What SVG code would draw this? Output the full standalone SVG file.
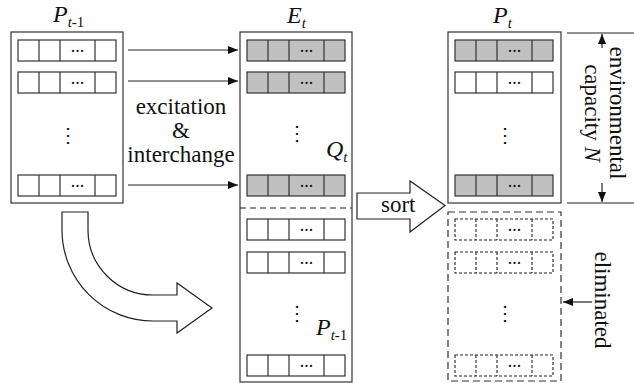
<svg xmlns="http://www.w3.org/2000/svg" xmlns:xlink="http://www.w3.org/1999/xlink" width="634" height="383" viewBox="0 0 634 383">
  <style>
    .box { fill: #fff; stroke: #333; stroke-width: 1.2; }
    .dbox { fill: none; stroke: #333; stroke-width: 1.2; stroke-dasharray: 7 4; }
    .cell { stroke: #333; stroke-width: 1.2; }
    .dcell { fill: none; stroke: #222; stroke-width: 1.1; stroke-dasharray: 3 2; }
    .txt { font-family: "Liberation Serif", "Times New Roman", serif; font-size: 23px; fill: #111; }
    .math { font-family: "Liberation Serif", "Times New Roman", serif; font-size: 24px; font-style: italic; fill: #111; }
    .sub { font-size: 15px; }
    .dots { font-family: "Liberation Serif", "Times New Roman", serif; font-size: 18px; fill: #111; text-anchor: middle; }
    .vdots { font-family: "DejaVu Serif", serif; font-size: 20px; fill: #111; text-anchor: middle; }
    .line { stroke: #222; stroke-width: 1.2; fill: none; }
    .block { fill: #fff; stroke: #222; stroke-width: 1.2; stroke-linejoin: miter; }
  </style>
  <defs>
    <marker id="head" viewBox="0 0 10 8" refX="10" refY="4" markerWidth="10" markerHeight="8" markerUnits="userSpaceOnUse" orient="auto">
      <path d="M0,0 L10,4 L0,8 Z" fill="#111"/>
    </marker>
    <!-- one individual: four cells, the third holding an ellipsis -->
    <g id="row-white">
      <rect class="cell" x="0" y="0" width="98" height="21" fill="#fff"/>
      <path class="cell" d="M21,0 V21 M42,0 V21 M77,0 V21"/>
      <text class="dots" x="59.5" y="12">...</text>
    </g>
    <g id="row-gray">
      <rect class="cell" x="0" y="0" width="98" height="21" fill="#c0c0c0"/>
      <path class="cell" d="M21,0 V21 M42,0 V21 M77,0 V21"/>
      <text class="dots" x="59.5" y="12">...</text>
    </g>
    <g id="row-dash">
      <rect class="dcell" x="0" y="0" width="98" height="21"/>
      <path class="dcell" d="M21,0 V21 M42,0 V21 M77,0 V21"/>
      <text class="dots" x="59.5" y="12">...</text>
    </g>
  </defs>

  <!-- previous population P(t-1) -->
  <g id="pop-prev">
    <text class="math" x="53" y="22">P<tspan class="sub" dy="5">t</tspan><tspan class="sub" font-style="normal">-1</tspan></text>
    <rect class="box" x="11" y="32" width="112" height="171"/>
    <use xlink:href="#row-white" x="18" y="40"/>
    <use xlink:href="#row-white" x="18" y="72"/>
    <text class="vdots" x="68" y="142">⋮</text>
    <use xlink:href="#row-white" x="18" y="175"/>
  </g>

  <!-- extended population E(t) = Q(t) + P(t-1) -->
  <g id="pop-ext">
    <text class="math" x="287" y="23">E<tspan class="sub" dy="5">t</tspan></text>
    <rect class="box" x="240" y="32" width="112" height="350"/>
    <use xlink:href="#row-gray" x="247" y="40"/>
    <use xlink:href="#row-gray" x="247" y="72"/>
    <text class="vdots" x="297" y="140">⋮</text>
    <text class="math" x="326" y="157">Q<tspan class="sub" dy="5">t</tspan></text>
    <use xlink:href="#row-gray" x="247" y="175"/>
    <line x1="240" y1="208" x2="352" y2="208" stroke="#222" stroke-width="1.2" stroke-dasharray="6 4"/>
    <use xlink:href="#row-white" x="247" y="219"/>
    <use xlink:href="#row-white" x="247" y="252"/>
    <text class="vdots" x="297" y="320">⋮</text>
    <text class="math" x="316" y="335">P<tspan class="sub" dy="5">t</tspan><tspan class="sub" font-style="normal">-1</tspan></text>
    <use xlink:href="#row-white" x="247" y="355"/>
  </g>

  <!-- new population P(t) -->
  <g id="pop-new">
    <text class="math" x="493" y="23">P<tspan class="sub" dy="5">t</tspan></text>
    <rect class="box" x="448" y="32" width="113" height="171"/>
    <use xlink:href="#row-gray" x="455" y="40"/>
    <use xlink:href="#row-white" x="455" y="72"/>
    <text class="vdots" x="505" y="142">⋮</text>
    <use xlink:href="#row-gray" x="455" y="175"/>
  </g>

  <!-- discarded individuals -->
  <g id="pop-eliminated">
    <rect class="dbox" x="448" y="212" width="113" height="169"/>
    <use xlink:href="#row-dash" x="455" y="219"/>
    <use xlink:href="#row-dash" x="455" y="252"/>
    <text class="vdots" x="505" y="320">⋮</text>
    <use xlink:href="#row-dash" x="455" y="355"/>
  </g>

  <!-- connectors -->
  <g id="connectors">
    <line class="line" x1="128" y1="50" x2="238" y2="50" marker-end="url(#head)"/>
    <line class="line" x1="128" y1="81" x2="238" y2="81" marker-end="url(#head)"/>
    <line class="line" x1="128" y1="185" x2="238" y2="185" marker-end="url(#head)"/>
    <text class="txt" x="181" y="114" text-anchor="middle">excitation</text>
    <text class="txt" x="181" y="138" text-anchor="middle">&amp;</text>
    <text class="txt" x="181" y="162" text-anchor="middle">interchange</text>

    <!-- curved copy arrow from P(t-1) into E(t) -->
    <path class="block" d="M62,212 L88,212 L88,230 A65,65 0 0 0 153,295 L177,295 L177,283 L212,308 L177,333 L177,321 L153,321 A91,91 0 0 1 62,230 Z"/>

    <!-- sort block arrow -->
    <path class="block" d="M357,193 L410,193 L410,181 L445,205.5 L410,232 L410,219 L357,219 Z"/>
    <text class="txt" x="381" y="212">sort</text>

    <!-- environmental capacity dimension -->
    <line class="line" x1="567" y1="33" x2="634" y2="33"/>
    <line class="line" x1="567" y1="203" x2="634" y2="203"/>
    <line class="line" x1="602" y1="48" x2="602" y2="34" marker-end="url(#head)"/>
    <line class="line" x1="602" y1="183" x2="602" y2="202" marker-end="url(#head)"/>
    <text class="txt" transform="translate(610,113) rotate(90)" text-anchor="middle">environmental</text>
    <text class="txt" transform="translate(585,113) rotate(90)" text-anchor="middle">capacity <tspan font-style="italic">N</tspan></text>

    <!-- eliminated marker -->
    <line class="line" x1="592" y1="302" x2="563" y2="302" marker-end="url(#head)"/>
    <text class="txt" transform="translate(595,300) rotate(90)" text-anchor="middle">eliminated</text>
  </g>
</svg>
